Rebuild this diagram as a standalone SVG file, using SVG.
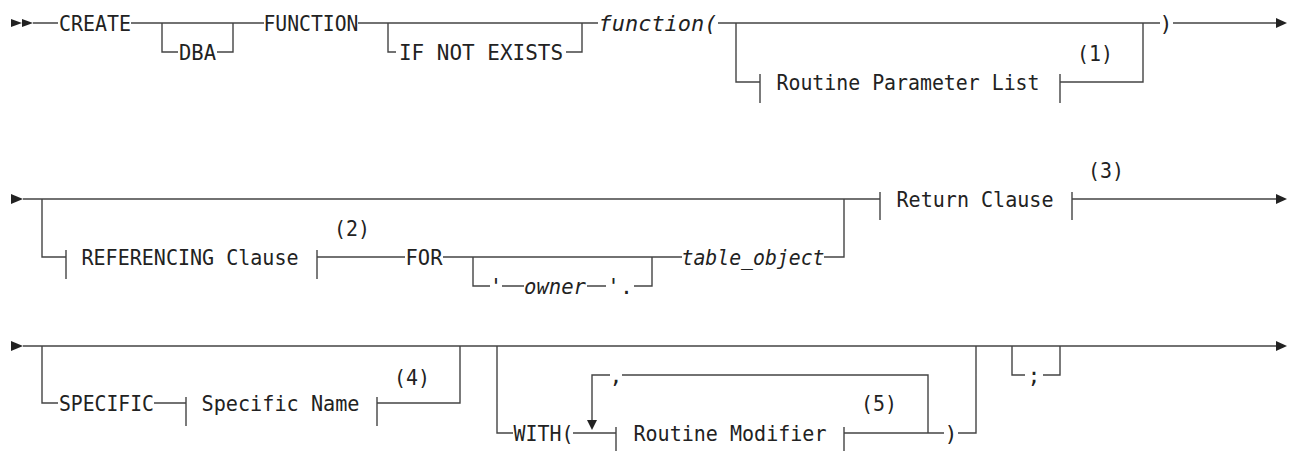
<svg xmlns="http://www.w3.org/2000/svg" width="1289" height="451" viewBox="0 0 1289 451">
<style>
.t{font-family:"DejaVu Sans Mono","Liberation Mono",monospace;font-size:21.5px;fill:#222;text-anchor:middle}
.i{font-style:italic}
.c{fill:none;stroke:#444;stroke-width:1.4}
.a{fill:#222;stroke:none}
</style>
<rect width="1289" height="451" fill="#fff"/>
<g id="connectors">
<path class="c" d="M33,23 H58 M131,23 H264 M162,23 V52 H178 M217,52 H233 V23 M358,23 H598 M388,23 V52 H396 M566,52 H582 V23 M718,23 H1160 M736,23 V82 H760 M760,74 V103 M1060,74 V103 M1060,82 H1143 V23 M1173,23 H1276"/>
<polygon class="a" points="11,19 22,23 11,27"/>
<polygon class="a" points="22,19 33,23 22,27"/>
<polygon class="a" points="1276,18 1287,23 1276,28"/>
<path class="c" d="M23,199 H880 M42,199 V257 H66 M66,250 V279 M317,250 V279 M317,257 H405 M443,257 H682 M473,257 V286 H490 M502,286 H524 M587,286 H606 M634,286 H652 V257 M824,257 H844 V199 M880,192 V220 M1072,192 V220 M1072,199 H1276"/>
<polygon class="a" points="11,194 23,199 11,204"/>
<polygon class="a" points="1276,194 1287,199 1276,204"/>
<path class="c" d="M23,346 H1276 M42,346 V403 H58 M154,403 H186 M186,397 V426 M377,397 V426 M377,403 H460 V346 M497,346 V433 H513 M573,433 H616 M616,427 V451 M844,427 V451 M844,433 H944 M928,433 V375 H622 M610,375 H592 V421 M958,433 H976 V346 M1012,346 V375 H1025 M1043,375 H1060 V346"/>
<polygon class="a" points="587,420 597,420 592,430"/>
<polygon class="a" points="11,341 23,346 11,351"/>
<polygon class="a" points="1276,341 1287,346 1276,351"/>
</g>
<g id="create"><text class="t" x="95" y="31" textLength="72" lengthAdjust="spacingAndGlyphs">CREATE</text></g>
<g id="dba"><text class="t" x="197.5" y="60" textLength="37" lengthAdjust="spacingAndGlyphs">DBA</text></g>
<g id="function-kw"><text class="t" x="311" y="31" textLength="95" lengthAdjust="spacingAndGlyphs">FUNCTION</text></g>
<g id="if-not-exists"><text class="t" x="481" y="60" textLength="164" lengthAdjust="spacingAndGlyphs">IF NOT EXISTS</text></g>
<g id="function-name"><text class="t i" x="658" y="31" textLength="119" lengthAdjust="spacingAndGlyphs">function(</text></g>
<g id="routine-parameter-list"><text class="t" x="908" y="90" textLength="263" lengthAdjust="spacingAndGlyphs">Routine Parameter List</text><text class="t" x="1095" y="61" textLength="36" lengthAdjust="spacingAndGlyphs">(1)</text></g>
<g id="close-paren-1"><text class="t" x="1166" y="31">)</text></g>
<g id="referencing-clause"><text class="t" x="190" y="265" textLength="217" lengthAdjust="spacingAndGlyphs">REFERENCING Clause</text><text class="t" x="352" y="236" textLength="36" lengthAdjust="spacingAndGlyphs">(2)</text></g>
<g id="for"><text class="t" x="424" y="265" textLength="37" lengthAdjust="spacingAndGlyphs">FOR</text></g>
<g id="owner"><text class="t" x="496" y="294">'</text><text class="t i" x="555" y="294" textLength="62" lengthAdjust="spacingAndGlyphs">owner</text><text class="t" x="620" y="294">'.</text></g>
<g id="table-object"><text class="t i" x="753" y="265" textLength="143" lengthAdjust="spacingAndGlyphs">table_object</text></g>
<g id="return-clause"><text class="t" x="975" y="207" textLength="157" lengthAdjust="spacingAndGlyphs">Return Clause</text><text class="t" x="1106" y="178" textLength="36" lengthAdjust="spacingAndGlyphs">(3)</text></g>
<g id="specific"><text class="t" x="106.5" y="411" textLength="95" lengthAdjust="spacingAndGlyphs">SPECIFIC</text></g>
<g id="specific-name"><text class="t" x="280.5" y="411" textLength="158" lengthAdjust="spacingAndGlyphs">Specific Name</text><text class="t" x="412" y="385" textLength="36" lengthAdjust="spacingAndGlyphs">(4)</text></g>
<g id="with"><text class="t" x="543.5" y="441" textLength="60" lengthAdjust="spacingAndGlyphs">WITH(</text></g>
<g id="comma"><text class="t" x="616" y="383">,</text></g>
<g id="routine-modifier"><text class="t" x="730" y="441" textLength="193" lengthAdjust="spacingAndGlyphs">Routine Modifier</text><text class="t" x="879" y="411" textLength="36" lengthAdjust="spacingAndGlyphs">(5)</text></g>
<g id="close-paren-2"><text class="t" x="951" y="441">)</text></g>
<g id="semicolon"><text class="t" x="1034" y="383">;</text></g>
</svg>
